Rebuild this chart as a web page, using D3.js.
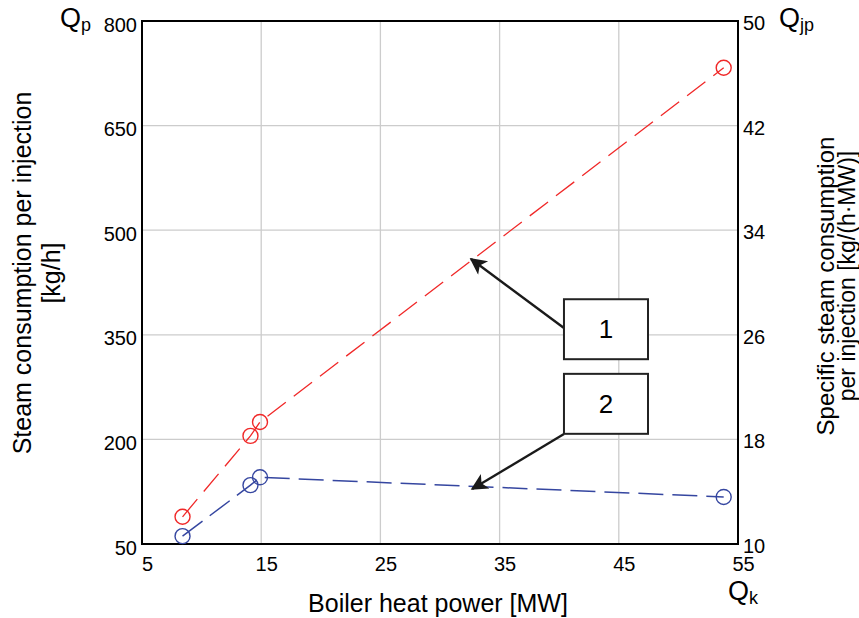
<!DOCTYPE html>
<html>
<head>
<meta charset="utf-8">
<script src="https://cdn.jsdelivr.net/npm/d3@7"></script>
<style>
  body { margin: 0; background: #fff; }
  svg { font-family: "Liberation Sans", Arial, sans-serif; }
</style>
</head>
<body>
<svg width="859" height="618"></svg>
<script>
// Data
const boilerPower = [8.4, 14.1, 14.9, 53.8];          // Qk [MW]
const steamPerInjection = [89, 205, 225, 733];       // Qp [kg/h], left axis
const specificSteam = [10.6, 14.5, 15.1, 13.6];      // Qjp [kg/(h·MW)], right axis

const xTicks = [5, 15, 25, 35, 45, 55];
const yLeftTicks = [50, 200, 350, 500, 650, 800];
const yRightTicks = [10, 18, 26, 34, 42, 50];

// Callout boxes (data coords: x in MW, y on left axis)
const callouts = [
    {label: "1", x0: 40.4, x1: 47.45, y0: 401, y1: 315, tail: [40.4, 359.7], tip: [32.6, 458.7]},
    {label: "2", x0: 40.4, x1: 47.45, y0: 294, y1: 208, tail: [40.4, 207.7], tip: [32.7, 128.9]}
];

const svg = d3.select("svg");
const margin = {left: 142, right: 121, top: 21, bottom: 74};
const width = 859 - margin.left - margin.right;
const height = 618 - margin.top - margin.bottom;

const x = d3.scaleLinear().domain([5, 55]).range([margin.left, margin.left + width]);
const yL = d3.scaleLinear().domain([50, 800]).range([margin.top + height, margin.top]);
const yR = d3.scaleLinear().domain([10, 50]).range([margin.top + height, margin.top]);

// grid
const grid = svg.append("g").attr("stroke", "#cccccc").attr("stroke-width", 1.3);
grid.selectAll("line.v")
    .data(xTicks.slice(1, -1))
    .join("line")
    .attr("x1", d => x(d)).attr("x2", d => x(d))
    .attr("y1", margin.top).attr("y2", margin.top + height);
grid.selectAll("line.h")
    .data(yLeftTicks.slice(1, -1))
    .join("line")
    .attr("y1", d => yL(d)).attr("y2", d => yL(d))
    .attr("x1", margin.left).attr("x2", margin.left + width);

// axes (labels only, no tick marks)
const axisFont = g => {
    g.select(".domain").remove();
    g.selectAll(".tick line").remove();
    g.selectAll("text").attr("font-size", 20).attr("fill", "#000")
        .attr("font-family", "Liberation Sans, Arial, sans-serif");
};
svg.append("g")
    .attr("transform", `translate(0,${margin.top + height})`)
    .call(d3.axisBottom(x).tickValues(xTicks).tickSize(0).tickPadding(13))
    .call(axisFont)
    .selectAll("text").attr("dx", 5);
svg.append("g")
    .attr("transform", `translate(${margin.left},0)`)
    .call(d3.axisLeft(yL).tickValues(yLeftTicks).tickSize(0).tickPadding(5))
    .call(axisFont)
    .selectAll("text").attr("dy", "0.5em");
svg.append("g")
    .attr("transform", `translate(${margin.left + width},0)`)
    .call(d3.axisRight(yR).tickValues(yRightTicks).tickSize(0).tickPadding(5))
    .call(axisFont)
    .selectAll("text").attr("dy", "0.42em");

// frame
svg.append("rect")
    .attr("x", margin.left).attr("y", margin.top)
    .attr("width", width).attr("height", height)
    .attr("fill", "none").attr("stroke", "#000").attr("stroke-width", 2);

// series
const series = [
    {pts: boilerPower.map((d, i) => [x(d), yL(steamPerInjection[i])]), col: "#f02828", dash: "23,10", w: 1.3},
    {pts: boilerPower.map((d, i) => [x(d), yR(specificSteam[i])]), col: "#3546a0", dash: "25,9", w: 1.5}
];

series.forEach(s => {
    svg.append("path")
        .attr("d", d3.line()(s.pts))
        .attr("fill", "none")
        .attr("stroke", s.col)
        .attr("stroke-width", s.w)
        .attr("stroke-dasharray", s.dash);
    svg.append("g").selectAll("circle")
        .data(s.pts)
        .join("circle")
        .attr("cx", d => d[0]).attr("cy", d => d[1])
        .attr("r", 7.5)
        .attr("fill", "none")
        .attr("stroke", s.col)
        .attr("stroke-width", 1.4);
});

// callouts
svg.append("defs").append("marker")
    .attr("id", "arrow")
    .attr("viewBox", "0 0 10 10")
    .attr("refX", 9).attr("refY", 5)
    .attr("markerWidth", 8.5).attr("markerHeight", 7)
    .attr("markerUnits", "strokeWidth")
    .attr("orient", "auto")
    .append("path")
    .attr("d", "M0,0 L10,5 L0,10 L2.5,5 Z")
    .attr("fill", "#1a1a1a");

callouts.forEach(c => {
    svg.append("line")
        .attr("x1", x(c.tail[0])).attr("y1", yL(c.tail[1]))
        .attr("x2", x(c.tip[0])).attr("y2", yL(c.tip[1]))
        .attr("stroke", "#1a1a1a").attr("stroke-width", 2.4)
        .attr("marker-end", "url(#arrow)");
    svg.append("rect")
        .attr("x", x(c.x0)).attr("y", yL(c.y0))
        .attr("width", x(c.x1) - x(c.x0)).attr("height", yL(c.y1) - yL(c.y0))
        .attr("fill", "#fff").attr("stroke", "#222").attr("stroke-width", 2);
    svg.append("text")
        .attr("x", (x(c.x0) + x(c.x1)) / 2)
        .attr("y", (yL(c.y0) + yL(c.y1)) / 2 + 9)
        .attr("text-anchor", "middle")
        .attr("font-size", 26)
        .text(c.label);
});

// axis titles
const leftTitle = svg.append("text")
    .attr("transform", "translate(22,273) rotate(-90)")
    .attr("text-anchor", "middle").attr("font-size", 25);
leftTitle.append("tspan").attr("x", 0).attr("dy", "0.35em").text("Steam consumption per injection");
leftTitle.append("tspan").attr("x", 0).attr("dy", "1.17em").text("[kg/h]");

svg.append("text")
    .attr("transform", "translate(826,286) rotate(-90)")
    .attr("text-anchor", "middle").attr("font-size", 24).attr("dy", "0.35em")
    .text("Specific steam consumption");
svg.append("text")
    .attr("transform", "translate(847,276) rotate(-90)")
    .attr("text-anchor", "middle").attr("font-size", 23).attr("dy", "0.33em")
    .text("per injection [kg/(h·MW)]");

svg.append("text")
    .attr("x", x(30) - 2).attr("y", 612)
    .attr("text-anchor", "middle").attr("font-size", 25)
    .text("Boiler heat power [MW]");

// symbol labels
const sym = (px, py, main, sub) => {
    const t = svg.append("text").attr("x", px).attr("y", py).attr("font-size", 27);
    t.append("tspan").text(main);
    t.append("tspan").attr("font-size", 18).attr("dy", 4).text(sub);
};
sym(60, 27, "Q", "p");
sym(779, 27, "Q", "jp");
sym(728, 600, "Q", "k");
</script>
</body>
</html>
